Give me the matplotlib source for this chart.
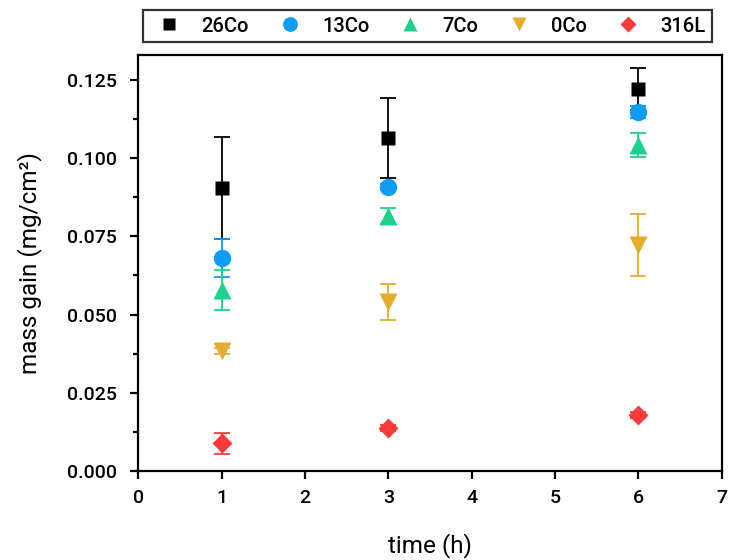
import numpy as np
import matplotlib
matplotlib.use('Agg')
import matplotlib.pyplot as plt
from matplotlib.lines import Line2D
from matplotlib.ticker import MultipleLocator, FormatStrFormatter

plt.rcParams['font.family'] = ['Roboto', 'DejaVu Sans']
plt.rcParams['font.weight'] = 'medium'

time_h = [1, 3, 6]
labels = ['26Co', '13Co', '7Co', '0Co', '316L']
gain = {
    '26Co': [0.0905, 0.1065, 0.1221],
    '13Co': [0.0680, 0.0908, 0.1148],
    '7Co': [0.0579, 0.0815, 0.1042],
    '0Co': [0.0384, 0.0540, 0.0722],
    '316L': [0.0088, 0.0137, 0.0178],
}
err = {
    '26Co': [0.0162, 0.0128, 0.0067],
    '13Co': [0.0060, 0.0010, 0.0020],
    '7Co': [0.0064, 0.0026, 0.0038],
    '0Co': [0.0010, 0.0058, 0.0098],
    '316L': [0.0033, 0.0010, 0.0010],
}
colors = ['#000000', '#0d9cf7', '#1dd08c', '#e5ac2e', '#f93b3b']
markers = ['s', 'o', '^', 'v', 'D']
sizes = [10.5, 12.5, 12.5, 12.5, 10]

fig = plt.figure(figsize=(7.35, 5.6), dpi=100)
ax = fig.add_axes([0.188, 0.159, 0.794, 0.743])

handles = []
for lab, c, m, s in zip(labels, colors, markers, sizes):
    ax.errorbar(time_h, gain[lab], yerr=err[lab], fmt=m, color=c, ms=s,
                mec='none', ecolor=c, elinewidth=1.3, capsize=6, capthick=1.3)
    handles.append(Line2D([], [], ls='none', marker=m, color=c, mec='none',
                          ms=s * 0.85, label=lab))

ax.set_xlim(0, 7)
ax.set_ylim(0, 0.133)
ax.xaxis.set_major_locator(MultipleLocator(1))
ax.yaxis.set_major_locator(MultipleLocator(0.025))
ax.yaxis.set_minor_locator(MultipleLocator(0.0125))
ax.yaxis.set_major_formatter(FormatStrFormatter('%.3f'))
ax.tick_params(which='major', direction='out', length=6, width=1.6, labelsize=14, colors='black')
ax.tick_params(axis='y', which='major', pad=9)
ax.tick_params(axis='x', which='major', pad=7)
ax.tick_params(which='minor', direction='out', length=3.5, width=1.6)
for sp in ax.spines.values():
    sp.set_linewidth(1.6)

ax.set_xlabel('time (h)', fontsize=17.5, labelpad=19)
ax.set_ylabel('mass gain (mg/cm²)', fontsize=17.5, labelpad=18)

leg = fig.legend(handles=handles, loc='center', bbox_to_anchor=(0.181, 0.921, 0.801, 0.065),
                 mode='expand', ncol=5, fontsize=14.5, frameon=True, fancybox=False,
                 edgecolor='black', handletextpad=0.6, borderpad=0.3)
leg.get_frame().set_linewidth(1.6)

fig.savefig('out.png', dpi=100)
